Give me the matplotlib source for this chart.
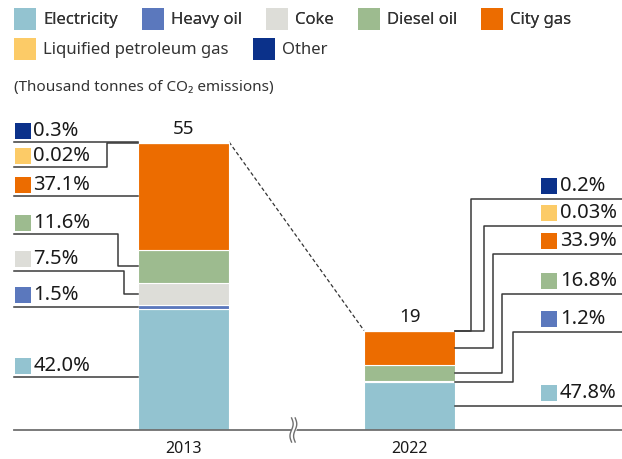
import numpy as np
import matplotlib
matplotlib.use('Agg')
import matplotlib.pyplot as plt
from matplotlib.patches import Patch

plt.rcParams['font.family'] = ['Noto Sans', 'DejaVu Sans']

# data
categories = ['Electricity', 'Heavy oil', 'Coke', 'Diesel oil', 'City gas',
              'Liquified petroleum gas', 'Other']
colors = ['#93c3d0', '#5b78bd', '#ddddd8', '#9dbb8f', '#ec6c00', '#fccb67', '#0b318a']
years = ['2013', '2022']
totals = [55, 19]
shares_2013 = [42.0, 1.5, 7.5, 11.6, 37.1, 0.02, 0.3]
shares_2022 = [47.8, 1.2, 0.0, 16.8, 33.9, 0.03, 0.2]
labels_2013 = ['42.0%', '1.5%', '7.5%', '11.6%', '37.1%', '0.02%', '0.3%']
labels_2022 = ['47.8%', '1.2%', None, '16.8%', '33.9%', '0.03%', '0.2%']

# leader line layout (level of the horizontal line at the label, elbow x)
left_level = [10.1, None, 30.4, 37.4, None, 50.2, None]
left_elbow = [None, None, -0.263, -0.290, None, -0.338, None]
right_level = [None, 18.7, None, 26.0, 33.6, 39.0, 44.1]
right_elbow = [None, 1.458, None, 1.409, 1.369, 1.330, 1.272]

fig = plt.figure(figsize=(6.22, 4.59), dpi=100)
ax = fig.add_axes([0, 0.0632, 1, 0.6845])
ax.set_xlim(-0.812, 1.94)
ax.set_ylim(0, 60)

x = np.arange(len(years))
w = 0.403
bottom = np.zeros(2)
seg_mid = []
for i, cat in enumerate(categories):
    vals = np.array([totals[0] * shares_2013[i] / 100, totals[1] * shares_2022[i] / 100])
    ax.bar(x, vals, w, bottom=bottom, color=colors[i], edgecolor='white',
           linewidth=0.8, zorder=2)
    seg_mid.append(bottom + vals / 2)
    bottom = bottom + vals

for xi, t in zip(x, totals):
    ax.text(xi, t + 0.8, str(t), ha='center', va='bottom', fontsize=13.5, color='#1a1a1a')

ax.plot([x[0] + w / 2, x[1] - w / 2], [totals[0], totals[1]], ls=(0, (3, 2)),
        color='#333333', lw=0.9, zorder=1)

lc = '#3a3a3a'
# left labels (2013)
for i, lab in enumerate(labels_2013):
    ty = seg_mid[i][0]
    bx = x[0] - w / 2
    if left_elbow[i] is None:
        lev = ty if left_level[i] is None else left_level[i]
        ax.plot([-0.75, bx], [lev, lev], color=lc, lw=1.1, zorder=3)
    else:
        lev = left_level[i]
        ex = left_elbow[i]
        ax.plot([-0.75, ex, ex, bx], [lev, lev, ty, ty], color=lc, lw=1.1, zorder=3)
    ax.plot(-0.71, lev + 2.2, marker='s', ms=11.5, color=colors[i], mew=0)
    ax.text(-0.665, lev + 2.2, lab, va='center', ha='left', fontsize=14.5, color='#1a1a1a')

# right labels (2022)
for i, lab in enumerate(labels_2022):
    if lab is None:
        continue
    ty = seg_mid[i][1]
    bx = x[1] + w / 2
    if right_elbow[i] is None:
        lev = ty if right_level[i] is None else right_level[i]
        ax.plot([1.94, bx], [lev, lev], color=lc, lw=1.1, zorder=3)
    else:
        lev = right_level[i]
        ex = right_elbow[i]
        ax.plot([1.94, ex, ex, bx], [lev, lev, ty, ty], color=lc, lw=1.1, zorder=3)
    ax.plot(1.617, lev + 2.5, marker='s', ms=11.5, color=colors[i], mew=0)
    ax.text(1.665, lev + 2.5, lab, va='center', ha='left', fontsize=14.5, color='#1a1a1a')

# axis
for s in ['top', 'right', 'left']:
    ax.spines[s].set_visible(False)
ax.spines['bottom'].set_bounds(-0.75, 1.94)
ax.spines['bottom'].set_color('#6f6f6f')
ax.spines['bottom'].set_linewidth(1.3)
ax.set_yticks([])
ax.set_xticks(x)
ax.set_xticklabels(years, fontsize=11.5, color='#1a1a1a')
ax.tick_params(axis='x', length=0, pad=8)

# axis break mark
t = np.linspace(-1, 1, 40)
yb = t * 2.3
wave = 0.007 * np.sin(np.pi * t)
ax.fill_betweenx(yb, 0.478 + wave, 0.494 + wave, color='white', zorder=4, clip_on=False)
ax.plot(0.478 + wave, yb, color='#6f6f6f', lw=1, zorder=5, clip_on=False)
ax.plot(0.494 + wave, yb, color='#6f6f6f', lw=1, zorder=5, clip_on=False)

# legend
handles = [Patch(facecolor=c, edgecolor='none') for c in colors]
leg_kw = dict(loc='center left', frameon=False, handlelength=1.32, handleheight=1.65,
              handletextpad=0.42, columnspacing=1.45, borderpad=0, borderaxespad=0,
              fontsize=12, labelcolor='#333333')
leg1 = fig.legend(handles[:5], categories[:5], ncol=5, bbox_to_anchor=(0.0225, 0.9586), **leg_kw)
fig.add_artist(leg1)
fig.legend(handles[5:], categories[5:], ncol=2, bbox_to_anchor=(0.0225, 0.8932), **leg_kw)

fig.text(0.022, 0.81, '(Thousand tonnes of CO\u2082 emissions)', fontsize=11,
         color='#333333', va='center', ha='left')

fig.savefig('out.png', dpi=100)
